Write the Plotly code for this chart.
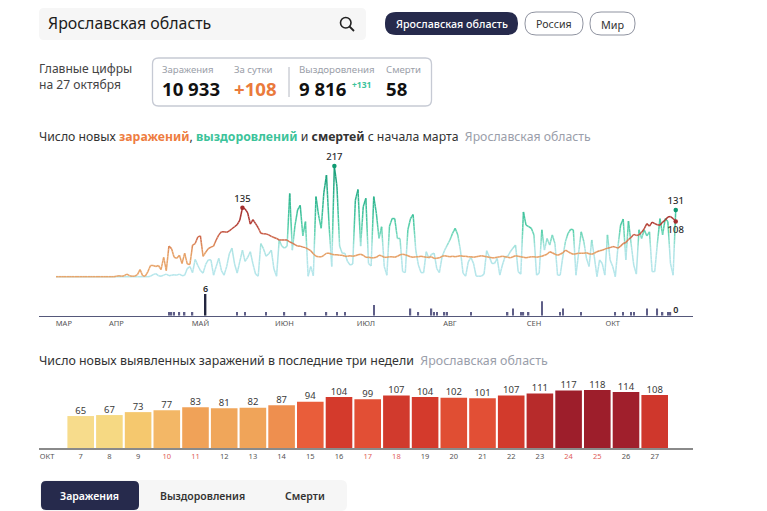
import numpy as np
import pandas as pd
import plotly.graph_objects as go

W, H = 767, 511
START = "2020-03-05"

infections = (
    [0] * 23 +
    [1, 2, 1, 2, 5, 2, 1, 1, 4, 14, 2, 1, 10, 22, 22, 20, 22] +
    [14, 38, 12, 60, 55, 38, 36, 42, 26, 46, 25, 24, 62, 65, 78, 80, 40, 48, 55, 58] +
    [60, 72, 82, 88, 88, 87, 90, 94, 98, 102, 111, 135, 133, 125, 103, 112, 104, 96, 85, 84] +
    [84, 82, 79, 77, 75, 72, 72, 72, 72, 68, 66, 63, 60, 60, 58, 57, 54, 51, 45, 40] +
    [39, 39, 42, 46, 46, 44, 43, 43, 42, 42, 40, 40, 41, 40, 41, 43, 44, 42, 38, 38] +
    [37, 37, 38, 42, 41, 38, 38, 39, 39, 38, 40, 43, 44, 43, 41, 39, 38, 39, 39, 40] +
    [39, 38, 38, 39, 36, 36, 37, 40, 41, 40, 39, 40, 39, 40, 41, 40, 40, 39, 39, 38] +
    [39, 40, 41, 40, 39, 38, 37, 37, 38, 39, 40, 39, 38, 37, 39, 41, 40, 39, 38, 37] +
    [38, 39, 39, 38, 39, 40, 42, 44, 49, 47, 44, 42, 44, 47, 52, 49, 46, 44, 45, 46] +
    [46, 46, 47, 45, 44, 46, 49, 51, 52, 54, 56, 57, 59, 58, 56, 60] +
    [65, 67, 73, 77, 83, 81, 82, 87, 94, 104, 99, 107, 104, 102, 101, 107, 111, 117, 118, 114, 108]
)
recovered = (
    [0] * 34 +
    [0, 0, 1, 4, 6, 2, 1, 3, 5, 2, 3, 4, 3, 5, 2, 3, 16, 20, 8, 34, 22, 12, 7, 24, 33, 33] +
    [3, 20, 36, 12, 3, 20, 45, 56, 25, 7, 30, 52, 30, 38, 49, 25, 5, 1, 65, 55] +
    [40, 45, 52, 15, 1, 72, 60, 56, 60, 163, 52, 100, 131, 140, 80, 108, 1, 20, 2, 157] +
    [120, 95, 165, 199, 100, 20, 217, 176, 60, 46, 46, 30, 23, 25, 150, 171, 60, 137, 154, 26] +
    [21, 157, 124, 75, 98, 20, 3, 99, 114, 114, 75, 75, 10, 8, 92, 114, 122, 52, 23, 8] +
    [8, 49, 36, 44, 46, 16, 8, 39, 52, 62, 72, 85, 95, 82, 52, 7, 1, 29, 38, 26] +
    [1, 1, 1, 5, 51, 39, 26, 26, 36, 3, 23, 39, 40, 49, 56, 62, 10, 5, 127, 101] +
    [98, 95, 82, 3, 7, 92, 52, 75, 62, 82, 65, 3, 3, 39, 69, 85, 93, 92, 3, 46] +
    [88, 69, 36, 20, 72, 39, 0, 33, 26, 3, 82, 33, 20, 0, 59, 101, 113, 33, 109, 65] +
    [23, 5, 92, 75, 92, 80, 88, 10, 10, 65, 114, 82, 114, 108, 26, 3, 131]
)
death_days = [43, 44, 45, 47, 49, 52, 57, 69, 72, 80, 87, 95, 103, 107, 110, 121, 135, 138, 143, 144,
              145, 148, 149, 158, 172, 174, 177, 178, 180, 185, 192, 193, 200, 213, 216, 219, 220,
              225, 229, 231, 233, 234]
death_values = [1, 1, 1, 1, 1, 1, 6, 1, 1, 1, 1, 1, 1, 1, 1, 3, 2, 1, 2, 1,
                1, 1, 1, 1, 1, 2, 1, 1, 1, 4, 1, 2, 1, 1, 1, 1, 1,
                2, 2, 1, 1, 1]
month_labels = ["МАР", "АПР", "МАЙ", "ИЮН", "ИЮЛ", "АВГ", "СЕН", "ОКТ"]
month_ticks = ["2020-03-08", "2020-03-28", "2020-04-29", "2020-05-31",
               "2020-07-01", "2020-08-02", "2020-09-03", "2020-10-03"]

oct_days = list(range(7, 28))
oct_values = [65, 67, 73, 77, 83, 81, 82, 87, 94, 104, 99, 107, 104, 102, 101, 107, 111, 117, 118, 114, 108]
oct_colors = ["#f7dc8c", "#f6d983", "#f5c86e", "#f3b766", "#f0a258", "#f0a65a", "#f0a459", "#ee8f4f",
              "#e95d3a", "#d43a2c", "#e24f35", "#d13a2d", "#d43a2c", "#e04e33", "#e24f35", "#d23a2c",
              "#b72b2b", "#9d1e2b", "#9d1e2b", "#a01f2c", "#cf372c"]
weekend_days = [10, 11, 17, 18, 24, 25]

INF_STOPS = ([0, 45, 60, 80, 105, 135], ["#e8a66c", "#e6a066", "#dd8a58", "#cc6249", "#b23c34", "#a22c2c"])
REC_STOPS = ([0, 55, 72, 95, 130, 217], ["#b6e6ec", "#aee4e4", "#86dcc8", "#56cea9", "#3cc09a", "#149a75"])


def fx(px):
    return px / W


def fy(px):
    return 1 - px / H


def hex_rgb(c):
    return np.array([int(c[i:i + 2], 16) for i in (1, 3, 5)], float)


def band_color(v, stops):
    xs, cs = stops
    arr = np.array([hex_rgb(c) for c in cs])
    rgb = [np.interp(v, xs, arr[:, k]) for k in range(3)]
    return "rgb(%d,%d,%d)" % tuple(int(round(c)) for c in rgb)


def gradient_traces(values, stops, band=8):
    """Cut the polyline where it crosses colour bands, one trace per band."""
    dates = pd.date_range(START, periods=len(values)).astype("int64").to_numpy() / 1e6
    groups = {}
    for i in range(len(values) - 1):
        a, b = values[i], values[i + 1]
        n = max(1, int(abs(b - a) // band) + 1)
        for k in range(n):
            t0, t1 = k / n, (k + 1) / n
            v0, v1 = a + (b - a) * t0, a + (b - a) * t1
            x0 = dates[i] + (dates[i + 1] - dates[i]) * t0
            x1 = dates[i] + (dates[i + 1] - dates[i]) * t1
            key = int((v0 + v1) / 2 // band)
            g = groups.setdefault(key, ([], []))
            g[0].extend([pd.Timestamp(x0, unit="ms"), pd.Timestamp(x1, unit="ms"), None])
            g[1].extend([v0, v1, None])
    out = []
    for key in sorted(groups):
        xs, ys = groups[key]
        out.append(go.Scatter(x=xs, y=ys, mode="lines", xaxis="x", yaxis="y", hoverinfo="skip",
                              showlegend=False, cliponaxis=False,
                              line=dict(color=band_color((key + .5) * band, stops), width=1.5)))
    return out


FONT = "Noto Sans"
fig = go.Figure()
for tr in gradient_traces(recovered, REC_STOPS):
    fig.add_trace(tr)
for tr in gradient_traces(infections, INF_STOPS):
    fig.add_trace(tr)

all_dates = pd.date_range(START, periods=len(infections))


def point(i, val, color, text, pos):
    fig.add_trace(go.Scatter(x=[all_dates[i]], y=[val], mode="markers+text", text=[text], textposition=pos,
                             textfont=dict(size=9.5, color="#2b2b2b", family=FONT, weight=500),
                             marker=dict(size=4.5, color=color), xaxis="x", yaxis="y",
                             showlegend=False, hoverinfo="skip", cliponaxis=False))


pk_i = int(np.argmax(infections))
pk_r = int(np.argmax(recovered))
point(pk_i, infections[pk_i], "#a22c2c", str(infections[pk_i]), "top center")
point(pk_r, recovered[pk_r], "#0f9a72", str(recovered[pk_r]), "top center")
point(len(recovered) - 1, recovered[-1], "#0f9a72", str(recovered[-1]), "top center")
point(len(infections) - 1, infections[-1], "#a22c2c", str(infections[-1]), "bottom center")

death_dates = [all_dates[i] for i in death_days]
death_colors = ["#23263f" if v == max(death_values) else "#5f5f88" for v in death_values]
fig.add_trace(go.Bar(x=death_dates, y=death_values, width=1.4 * 86400000 / 2.626,
                     marker=dict(color=death_colors, line_width=0), xaxis="x", yaxis="y2",
                     showlegend=False, hoverinfo="skip"))
pk_d = int(np.argmax(death_values))
fig.add_trace(go.Scatter(x=[death_dates[pk_d], all_dates[-1]], y=[death_values[pk_d], 0],
                         mode="text", text=[str(death_values[pk_d]), "0"], textposition="top center",
                         textfont=dict(size=9, color="#2b2b2b", family=FONT, weight=600),
                         xaxis="x", yaxis="y2", showlegend=False, hoverinfo="skip", cliponaxis=False))

fig.add_trace(go.Bar(x=oct_days, y=oct_values, width=26.6 / 28.7,
                     marker=dict(color=oct_colors, line_width=0), cliponaxis=False,
                     xaxis="x2", yaxis="y3", showlegend=False, hoverinfo="skip"))
fig.add_trace(go.Scatter(x=oct_days, y=oct_values, mode="text", text=[str(v) for v in oct_values],
                         textposition="top center", cliponaxis=False,
                         textfont=dict(size=9.5, color="#3a3a3a", family=FONT),
                         xaxis="x2", yaxis="y3", showlegend=False, hoverinfo="skip"))

start_ts = pd.Timestamp(START)
PX_DAY = 2.626


def day_at(px):
    return start_ts + pd.Timedelta(days=(px - 56) / PX_DAY)


oct_ticks = [5.83] + oct_days
oct_text = ["ОКТ"] + [
    f'<span style="color:#e0605a">{d}</span>' if d in weekend_days else str(d) for d in oct_days
]

shapes = []


def rrect(x0, y0, x1, y1, r, fill=None, line=None, lw=1):
    path = (f"M {fx(x0 + r)} {fy(y0)} L {fx(x1 - r)} {fy(y0)} Q {fx(x1)} {fy(y0)} {fx(x1)} {fy(y0 + r)} "
            f"L {fx(x1)} {fy(y1 - r)} Q {fx(x1)} {fy(y1)} {fx(x1 - r)} {fy(y1)} "
            f"L {fx(x0 + r)} {fy(y1)} Q {fx(x0)} {fy(y1)} {fx(x0)} {fy(y1 - r)} "
            f"L {fx(x0)} {fy(y0 + r)} Q {fx(x0)} {fy(y0)} {fx(x0 + r)} {fy(y0)} Z")
    shapes.append(dict(type="path", xref="paper", yref="paper", path=path, fillcolor=fill or "rgba(0,0,0,0)",
                       line=dict(color=line or "rgba(0,0,0,0)", width=lw if line else 0), layer="below"))


NAVY = "#262a4c"
rrect(39, 8, 366, 40, 5, fill="#f6f6f6")
rrect(385, 12, 518, 35, 11, fill=NAVY)
rrect(525, 12, 583, 35, 11, line="#8f93a0")
rrect(590, 12, 635, 35, 11, line="#8f93a0")
rrect(152.5, 58, 431.5, 106, 6, line="#c6cad4", lw=1.3)
rrect(40, 480, 347, 511, 6, fill="#f6f6f6")
rrect(41, 481, 139, 510, 5, fill=NAVY)
shapes.append(dict(type="line", xref="paper", yref="paper", x0=fx(289), x1=fx(289), y0=fy(67), y1=fy(97),
                   line=dict(color="#b4b8c2", width=1)))
shapes.append(dict(type="circle", xref="paper", yref="paper", x0=fx(340.5), x1=fx(351), y0=fy(17.5), y1=fy(28),
                   line=dict(color="#222", width=1.6)))
shapes.append(dict(type="line", xref="paper", yref="paper", x0=fx(349.5), x1=fx(354), y0=fy(26.5), y1=fy(31),
                   line=dict(color="#222", width=1.8)))

annots = []


def txt(x, y, s, size=11, color="#222", anchor="left", weight=400):
    annots.append(dict(xref="paper", yref="paper", x=fx(x), y=fy(y), text=s, showarrow=False, xanchor=anchor,
                       yanchor="middle", xshift=0, borderpad=0, borderwidth=0,
                       font=dict(size=size, color=color, family=FONT, weight=weight), align="left"))


txt(48, 23, "Ярославская область", 15.9, "#1c1c1c")
txt(451.5, 24, "Ярославская область", 10.7, "#ffffff", "center", 500)
txt(554, 24, "Россия", 10.6, "#333", "center")
txt(612.5, 24, "Мир", 10.8, "#333", "center")
txt(39, 77, "Главные цифры<br>на 27 октября", 12.1, "#444")
txt(162, 69.5, "Заражения", 9.6, "#9a9ea8")
txt(234, 69.5, "За сутки", 9.6, "#9a9ea8")
txt(299, 69.5, "Выздоровления", 9.7, "#9a9ea8")
txt(386, 69.5, "Смерти", 9.6, "#9a9ea8")
txt(162, 89, "10 933", 18.6, "#111", weight=700)
txt(234, 89, "+108", 18.6, "#ea7a3c", weight=700)
txt(299, 89, "9 816", 18.6, "#111", weight=700)
txt(352, 85, "+131", 8.5, "#3cc39a", weight=700)
txt(386, 89, "58", 18.6, "#111", weight=700)
txt(39, 136,
    'Число новых <b><span style="color:#ee7d3f">заражений</span></b>, '
    '<b><span style="color:#3cc39a">выздоровлений</span></b> и <b>смертей</b> с начала марта '
    '<span style="color:#9a9eaa"> Ярославская область</span>', 12.25, "#333")
txt(39, 360,
    'Число новых выявленных заражений в последние три недели '
    '<span style="color:#9a9eaa"> Ярославская область</span>', 12.4, "#333")
txt(89, 495.5, "Заражения", 10.5, "#ffffff", "center", 600)
txt(202, 495.5, "Выздоровления", 10.5, "#333", "center", 600)
txt(305, 495.5, "Смерти", 10.5, "#333", "center", 600)

fig.update_layout(
    width=W, height=H, margin=dict(l=0, r=0, t=0, b=0), autosize=False,
    paper_bgcolor="white", plot_bgcolor="rgba(0,0,0,0)", barmode="overlay", showlegend=False,
    shapes=shapes, annotations=annots, font=dict(family=FONT),
    xaxis=dict(domain=[fx(39), fx(693)], range=[day_at(39), day_at(693)], type="date", anchor="y2",
               tickmode="array", tickvals=month_ticks, ticktext=month_labels, ticks="", ticklen=0,
               showgrid=False, zeroline=False, showline=True, linecolor="#55587a", linewidth=1,
               tickfont=dict(size=7.5, color="#555", family=FONT)),
    yaxis=dict(domain=[fy(290), fy(150)], range=[(276.7 - 290) / .51, (276.7 - 150) / .51], visible=False,
               anchor="x"),
    yaxis2=dict(domain=[fy(315.7), fy(285)], range=[0, 30.7 / 3.6], visible=False, anchor="x"),
    xaxis2=dict(domain=[fx(39), fx(693)], range=[7 - 41.7 / 28.7, 27 + 38.3 / 28.7], anchor="y3",
                tickmode="array", tickvals=oct_ticks, ticktext=oct_text, ticks="", ticklen=0, tickangle=0,
                showgrid=False, zeroline=False, showline=True, linecolor="#8a8a8a", linewidth=1.5,
                tickfont=dict(size=7.5, color="#555", family=FONT)),
    yaxis3=dict(domain=[fy(448), fy(385)], range=[0, 63 / .4915], visible=False, anchor="x2"),
)

fig.write_html("out.html", config=dict(displayModeBar=False),
               post_script="document.body.style.margin='0';")
